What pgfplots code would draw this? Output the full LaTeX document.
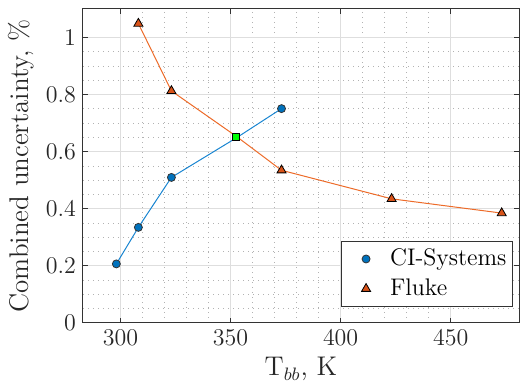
\documentclass[border=0pt]{standalone}
\usepackage{pgfplots}
\pgfplotsset{compat=1.18}
\definecolor{mblue}{rgb}{0,0.447,0.741}
\definecolor{morange}{rgb}{0.85,0.325,0.098}
\definecolor{mline}{rgb}{0.93,0.42,0.16}
\definecolor{mbline}{rgb}{0.1,0.52,0.82}
\begin{document}
\begin{tikzpicture}
\useasboundingbox (-41.5pt,-33.5pt) rectangle (218.5pt,161.5pt);
\begin{axis}[
  scale only axis,
  width=218pt, height=157pt,
  xmin=283, xmax=481, ymin=0, ymax=1.1,
  xtick={300,350,400,450},
  ytick={0,0.2,0.4,0.6,0.8,1},
  minor x tick num=4, minor y tick num=3,
  grid=both,
  major grid style={draw=black!13, line width=0.5pt},
  minor grid style={draw=black!30, dash pattern=on 0.5pt off 2pt, line width=0.45pt},
  axis line style={draw=black!80, line width=0.5pt},
  tick style={draw=black!80, line width=0.5pt},
  major tick length=2.5pt, minor tick length=0pt,
  tick pos=both,
  tick label style={font=\fontsize{12}{14}\selectfont, text=black!85},
  xlabel={T$_{bb}$, K},
  ylabel={Combined uncertainty, \%},
  label style={font=\fontsize{13.5}{16}\selectfont, text=black!85},
  xlabel style={yshift=1pt},
  ylabel style={yshift=-1pt},
  legend style={at={(axis description cs:0.986,0.051)}, anchor=south east,
    draw=black!80, fill=white, font=\fontsize{12}{14}\selectfont,
    cells={anchor=west}, row sep=1pt, inner xsep=1pt, inner ysep=2pt},
  legend image code/.code={\path[draw=none,fill=none] (-11.3pt,0) -- (10pt,0); \draw[#1] plot coordinates {(0pt,0pt)};},
]
\addplot[mbline, line width=0.5pt, forget plot] coordinates {
  (298.15,0.207) (308.15,0.335) (323.15,0.510) (353.15,0.651) (373.15,0.751)};
\addplot[mline, line width=0.5pt, forget plot] coordinates {
  (308.15,1.049) (323.15,0.813) (353.15,0.651) (373.15,0.535) (423.15,0.435) (473.15,0.385)};
\addplot[only marks, mark=*, mark size=2pt, mark options={fill=mblue, draw=black!80, line width=0.4pt}] coordinates {
  (298.15,0.207) (308.15,0.335) (323.15,0.510) (373.15,0.751)};
\addlegendentry{CI-Systems}
\addplot[only marks, mark=triangle*, mark size=2.6pt, mark options={fill=morange, draw=black, line width=0.4pt}] coordinates {
  (308.15,1.049) (323.15,0.813) (373.15,0.535) (423.15,0.435) (473.15,0.385)};
\addlegendentry{Fluke}
\addplot[only marks, mark=square*, mark size=1.75pt, mark options={fill=green, draw=black, line width=0.5pt}, forget plot] coordinates {
  (352.6,0.651)};
\end{axis}
\end{tikzpicture}
\end{document}
